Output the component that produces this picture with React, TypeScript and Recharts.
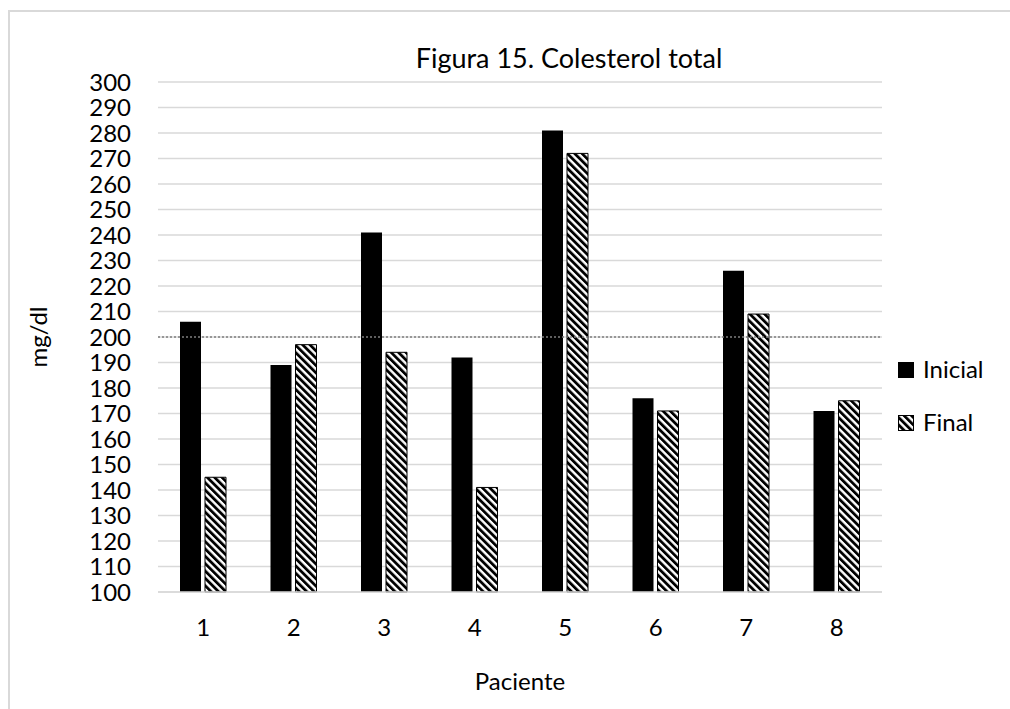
import React from "react";
import {
  BarChart,
  Bar,
  XAxis,
  YAxis,
  CartesianGrid,
  ReferenceLine,
  Legend,
  Label,
} from "recharts";

const pacientes = ["1", "2", "3", "4", "5", "6", "7", "8"];
const inicial = [206, 189, 241, 192, 281, 176, 226, 171];
const final = [145, 197, 194, 141, 272, 171, 209, 175];
const yTicks = [
  100, 110, 120, 130, 140, 150, 160, 170, 180, 190, 200, 210, 220, 230, 240, 250, 260, 270, 280, 290, 300,
];
const limite = 200;

const data = pacientes.map((p, i) => ({ paciente: p, Inicial: inicial[i], Final: final[i] }));

const FONT = "Lato, 'Open Sans', sans-serif";
const GRID = "#d9d9d9";
const FS = 24;

function LegendBox() {
  return (
    <svg width={110} height={80} style={{ overflow: "visible" }}>
      <rect x={0} y={2} width={16} height={16} fill="#000" />
      <text x={25} y={18} fontSize={FS} fontFamily={FONT} fill="#000">
        Inicial
      </text>
      <rect x={0.5} y={55.5} width={15} height={15} fill="url(#hatch)" stroke="#000" strokeWidth={1} />
      <text x={25} y={71} fontSize={FS} fontFamily={FONT} fill="#000">
        Final
      </text>
    </svg>
  );
}

export default function App() {
  return (
    <div style={{ position: "fixed", left: 0, top: 0, width: 1010, height: 709, overflow: "hidden", background: "#fff" }}>
      <div
        style={{
          position: "absolute",
          left: 8,
          top: 10,
          width: 1040,
          height: 740,
          borderLeft: `2px solid ${GRID}`,
          borderTop: `2px solid ${GRID}`,
        }}
      />
      <div style={{ position: "absolute", left: 0, top: 0 }}>
        <BarChart
          width={1010}
          height={709}
          data={data}
          margin={{ top: 82, right: 128, bottom: 0, left: 0 }}
          barSize={21}
          barGap={4}
        >
          <defs>
            <pattern id="hatch" patternUnits="userSpaceOnUse" width={5.2} height={5.2} patternTransform="rotate(-45)">
              <rect x={0} y={0} width={5.2} height={5.2} fill="#fff" />
              <rect x={0} y={0} width={2.8} height={5.2} fill="#000" />
            </pattern>
          </defs>
          <text x={569} y={68} textAnchor="middle" fontSize={27} fontFamily={FONT} fill="#000">
            Figura 15. Colesterol total
          </text>
          <CartesianGrid vertical={false} stroke={GRID} strokeWidth={1.5} />
          <XAxis
            dataKey="paciente"
            height={117}
            tickLine={false}
            axisLine={{ stroke: GRID, strokeWidth: 1.5 }}
            tickSize={0}
            tickMargin={27}
            tick={{ fill: "#000", fontSize: FS, fontFamily: FONT }}
          >
            <Label
              value="Paciente"
              position="insideBottom"
              offset={19}
              fill="#000"
              fontSize={FS}
              fontFamily={FONT}
            />
          </XAxis>
          <YAxis
            width={158}
            domain={[100, 300]}
            ticks={yTicks}
            interval={0}
            axisLine={false}
            tickLine={false}
            tickSize={0}
            tickMargin={27}
            tick={{ fill: "#000", fontSize: FS, fontFamily: FONT }}
          >
            <Label
              value="mg/dl"
              angle={-90}
              position="insideLeft"
              offset={38}
              textAnchor="middle"
              fill="#000"
              fontSize={FS}
              fontFamily={FONT}
            />
          </YAxis>
          <ReferenceLine y={limite} stroke="#7f7f7f" strokeWidth={1.5} strokeDasharray="2 2" />
          <Legend
            layout="horizontal"
            verticalAlign="middle"
            align="center"
            content={() => <LegendBox />}
            wrapperStyle={{ left: 898, top: 360, width: 110, height: 80 }}
          />
          <Bar dataKey="Inicial" fill="#000" isAnimationActive={false} />
          <Bar dataKey="Final" fill="url(#hatch)" stroke="#000" strokeWidth={1} isAnimationActive={false} />
        </BarChart>
      </div>
    </div>
  );
}
